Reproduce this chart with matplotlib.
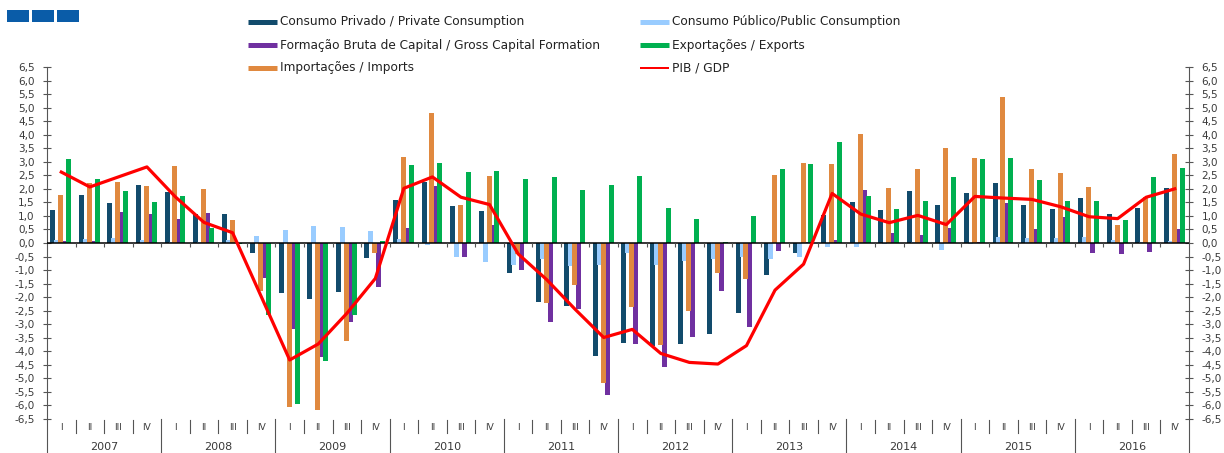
import numpy as np
import matplotlib
matplotlib.use("Agg")
import matplotlib.pyplot as plt
import matplotlib.transforms as mtransforms
from matplotlib.lines import Line2D
from matplotlib.patches import Rectangle
from matplotlib.ticker import FuncFormatter

# ── Data: contributions to GDP growth (p.p.), quarterly 2007-2016 ──
years = [str(y) for y in range(2007, 2017)]
quarters = ["I", "II", "III", "IV"]

private = [1.23, 1.76, 1.47, 2.16,  1.87, 1.06, 1.07, -0.36,
           -1.86, -2.07, -1.80, -0.57,  1.59, 2.25, 1.38, 1.18,
           -1.12, -2.19, -2.33, -4.17,  -3.68, -3.81, -3.74, -3.36,
           -2.60, -1.18, -0.38, 1.03,  1.50, 1.21, 1.91, 1.39,
           1.83, 2.23, 1.39, 1.26,  1.66, 1.07, 1.28, 2.03]
public = [0.10, 0.16, 0.20, 0.12,  0.03, 0.05, 0.10, 0.26,
          0.48, 0.62, 0.60, 0.43,  0.15, -0.07, -0.50, -0.71,
          -0.81, -0.60, -0.85, -0.81,  -0.38, -0.80, -0.66, -0.58,
          -0.53, -0.59, -0.50, -0.14,  -0.14, -0.05, 0.02, -0.26,
          -0.03, 0.21, 0.20, 0.20,  0.23, 0.10, 0.05, 0.08]
gcf = [0.08, 0.08, 1.16, 1.07,  0.87, 1.12, 0.02, -1.30,
       -3.17, -4.20, -2.90, -1.63,  0.57, 2.10, -0.50, 0.68,
       -1.00, -2.92, -2.43, -5.63,  -3.72, -4.59, -3.47, -1.76,
       -3.12, -0.28, 0.05, 0.12,  1.96, 0.36, 0.28, 0.57,
       0.03, 1.49, 0.50, 0.95,  -0.38, -0.40, -0.33, 0.50]
exports = [3.09, 2.36, 1.92, 1.53,  1.74, 0.54, -0.05, -2.66,
           -5.96, -4.35, -2.67, 0.06,  2.89, 2.96, 2.62, 2.67,
           2.36, 2.45, 1.95, 2.13,  2.49, 1.28, 0.87, 0.02,
           1.01, 2.73, 2.93, 3.74,  1.75, 1.26, 1.54, 2.43,
           3.12, 3.14, 2.33, 1.55,  1.55, 0.84, 2.43, 2.78]
imports = [1.79, 2.22, 2.25, 2.09,  2.84, 1.98, 0.85, -1.76,
           -6.05, -6.17, -3.62, -0.38,  3.17, 4.79, 1.42, 2.46,
           -0.41, -2.23, -1.55, -5.16,  -2.38, -3.77, -2.50, -1.12,
           -1.34, 2.51, 2.94, 2.91,  4.04, 2.03, 2.75, 3.50,
           3.15, 5.38, 2.75, 2.59,  2.08, 0.68, 1.69, 3.29]
gdp = [2.62, 2.07, 2.44, 2.81,  1.70, 0.76, 0.38, -1.97,
       -4.32, -3.73, -2.60, -1.31,  2.02, 2.44, 1.69, 1.42,
       -0.40, -1.35, -2.45, -3.49,  -3.19, -4.08, -4.41, -4.47,
       -3.79, -1.74, -0.78, 1.83,  1.07, 0.75, 1.02, 0.68,
       1.72, 1.66, 1.61, 1.34,  0.97, 0.90, 1.69, 2.00]

labels = ["Consumo Privado / Private Consumption",
          "Consumo Público/Public Consumption",
          "Formação Bruta de Capital / Gross Capital Formation",
          "Exportações / Exports",
          "Importações / Imports",
          "PIB / GDP"]
C_PRIV, C_PUB, C_GCF = "#124b6c", "#99ccff", "#7030a0"
C_EXP, C_IMP, C_GDP = "#00b050", "#e0893f", "#ff0000"

plt.rcParams["font.family"] = "DejaVu Sans"

# ── Figure / axes in pixel geometry ───────────────────────────
W, H = 1224, 453
L, R, T, B = 47, 1189, 67, 419
fig = plt.figure(figsize=(W / 100, H / 100), dpi=100)
ax = fig.add_axes([L / W, 1 - B / H, (R - L) / W, (B - T) / H])

n = len(gdp)
x = np.arange(n) + 0.5
bw = 0.175
bars = [(private, C_PRIV, -0.294, 2),
        (public, C_PUB, -0.156, 3),
        (gcf, C_GCF, 0.121, 4),
        (imports, C_IMP, -0.018, 5),
        (exports, C_EXP, 0.259, 6)]
for vals, col, off, z in bars:
    ax.bar(x + off, vals, bw, color=col, linewidth=0, zorder=z)

ax.axhline(0, color="black", lw=1.1, zorder=7)
ax.vlines(np.arange(1, n), -0.16, 0, color="#555555", lw=0.8, zorder=7)
ax.plot(x, gdp, color=C_GDP, lw=2.3, zorder=9, solid_joinstyle="round")

ax.set_xlim(0, n)
ax.set_ylim(-6.5, 6.5)
ax.set_xticks([])
ax.set_yticks(np.arange(-6.5, 6.51, 0.5))
ax.yaxis.set_major_formatter(FuncFormatter(lambda v, p: f"{v:.1f}".replace(".", ",")))
ax.tick_params(axis="y", direction="inout", length=5.8, width=0.8, color="#555555",
               labelsize=7.5, labelcolor="#3a3a3a", left=True, right=True,
               labelleft=True, labelright=True, pad=6)
for s in ["top", "bottom"]:
    ax.spines[s].set_visible(False)
for s in ["left", "right"]:
    ax.spines[s].set_color("#555555")
    ax.spines[s].set_linewidth(0.8)

# ── Category axis below the plot ──────────────────────────────
trans = mtransforms.blended_transform_factory(ax.transData, ax.transAxes)
hp = B - T
def fy(py):
    return (B - py) / hp

for k in range(0, n + 1):
    if k % 4 == 0:
        y0, y1 = fy(419), fy(453)
    else:
        y0, y1 = fy(420), fy(433)
    ax.add_line(Line2D([k, k], [y0, y1], transform=trans, color="#555555",
                       lw=0.8, clip_on=False))
for i in range(n):
    ax.text(x[i], fy(428), quarters[i % 4], transform=trans, ha="center",
            va="center", fontsize=6.5, color="#3a3a3a")
for j, yr in enumerate(years):
    ax.text(4 * j + 2, fy(447), yr, transform=trans, ha="center", va="center",
            fontsize=8, color="#3a3a3a")

# ── Legend (drawn manually in pixel positions) ────────────────
def fx(px):
    return px / W
def fyy(py):
    return 1 - py / H

leg = [(248, 22, C_PRIV, labels[0], 5), (640, 22, C_PUB, labels[1], 5),
       (248, 45, C_GCF, labels[2], 5), (640, 45, C_EXP, labels[3], 5),
       (248, 68, C_IMP, labels[4], 5), (640, 68, C_GDP, labels[5], 2)]
for px, py, col, lab, lw in leg:
    fig.add_artist(Line2D([fx(px), fx(px + 29)], [fyy(py), fyy(py)], color=col,
                          lw=lw * 0.72, solid_capstyle="butt"))
    fig.text(fx(px + 32), fyy(py), lab, ha="left", va="center", fontsize=8.7,
             color="#222222")

# logo squares top-left
for sx in [7, 32, 57]:
    fig.add_artist(Rectangle((fx(sx), fyy(22)), 22 / W, 12 / H,
                             transform=fig.transFigure, color="#0a5ca8", lw=0))

fig.savefig("out.png", dpi=100)
